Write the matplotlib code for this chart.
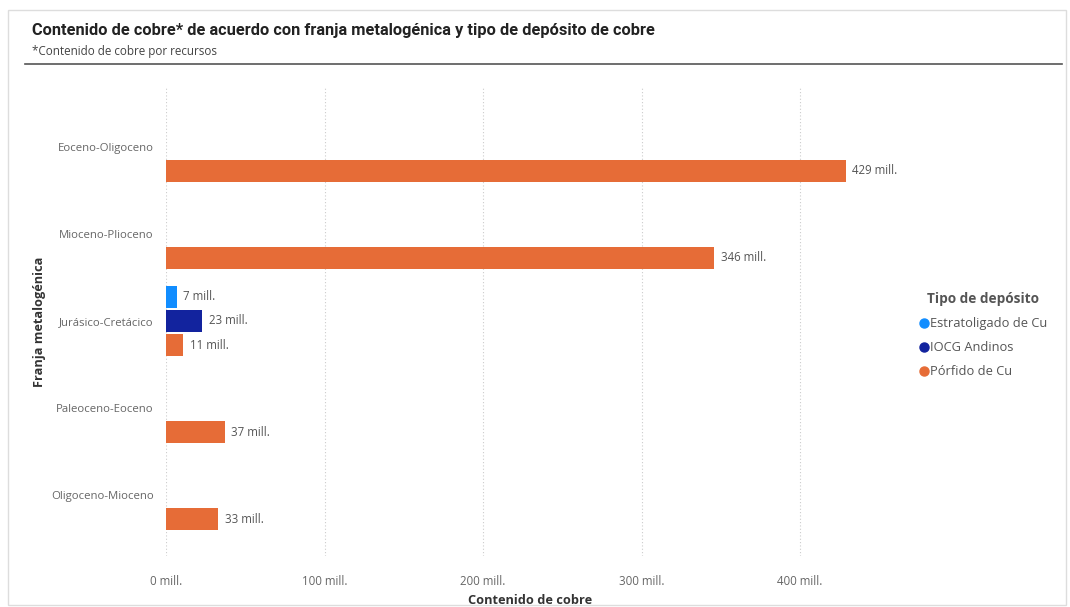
import matplotlib
matplotlib.use("Agg")
import matplotlib.pyplot as plt
import numpy as np
from matplotlib.patches import Rectangle
from matplotlib.lines import Line2D

categories = ["Eoceno-Oligoceno", "Mioceno-Plioceno", "Jurásico-Cretácico",
              "Paleoceno-Eoceno", "Oligoceno-Mioceno"]
series_names = ["Estratoligado de Cu", "IOCG Andinos", "Pórfido de Cu"]
estratoligado = [None, None, 7, None, None]
iocg = [None, None, 23, None, None]
porfido = [429, 346, 11, 37, 33]
series_values = [estratoligado, iocg, porfido]
colors = ["#118DFF", "#12239E", "#E66C37"]
xticks = [0, 100, 200, 300, 400]
xtick_labels = [f"{v} mill." for v in xticks]

plt.rcParams['font.family'] = ['Open Sans', 'DejaVu Sans']

fig = plt.figure(figsize=(10.70, 6.07), dpi=100)
W, H = 1070, 607
xmax = 460
ax = fig.add_axes([166 / W, (H - 556) / H, (xmax * 1.585) / W, (556 - 86) / H])

y = np.arange(len(categories))
slot = 0.276
barh = 0.25
offsets = [-slot, 0, slot]
for vals, off, col in zip(series_values, offsets, colors):
    for i, v in enumerate(vals):
        if v is None:
            continue
        ax.barh(y[i] + off, v, height=barh, color=col, linewidth=0)
        ax.text(v + 4, y[i] + off, f"{v} mill.", va="center", ha="left",
                fontsize=8.3, color="#555555")

ax.set_xlim(0, xmax)
ax.set_ylim(len(categories) - 1 + 0.7, -0.7)
ax.set_yticks(y)
ax.set_yticklabels(categories, fontsize=8.2, color="#666666")
ax.set_xticks(xticks)
ax.set_xticklabels(xtick_labels, fontsize=8.3, color="#666666")
ax.tick_params(axis="both", length=0)
ax.tick_params(axis="x", pad=14)
ax.tick_params(axis="y", pad=9)
ax.grid(axis="x", linestyle=(0, (1, 2)), color="#CCCCCC", linewidth=0.8)
ax.set_axisbelow(True)
for s in ax.spines.values():
    s.set_visible(False)

ax.set_xlabel("Contenido de cobre", fontsize=9.2, fontweight="bold", color="#333333", labelpad=4)
fig.text(40 / W, 1 - 322 / H, "Franja metalogénica", rotation=90, fontsize=9.2,
         fontweight="bold", color="#333333", ha="center", va="center")

# Title and subtitle
fig.text(32 / W, 1 - 30 / H, "Contenido de cobre* de acuerdo con franja metalogénica y tipo de depósito de cobre",
         fontsize=11.8, fontweight="bold", color="#222222", ha="left", va="center",
         family=['Roboto', 'DejaVu Sans'])
fig.text(32 / W, 1 - 51 / H, "*Contenido de cobre por recursos", fontsize=8.4,
         color="#444444", ha="left", va="center")
fig.add_artist(Line2D([25 / W, 1062 / W], [1 - 64 / H, 1 - 64 / H], color="#555555", lw=1.2))

# border
fig.add_artist(Rectangle((8 / W, 2 / H), (1066 - 8) / W, (605 - 10) / H, fill=False,
                         edgecolor="#DDDDDD", lw=1))

# Legend
handles = [Line2D([], [], marker="o", linestyle="", color=c, markersize=6.5) for c in colors]
leg = fig.legend(handles, series_names, loc="upper left", bbox_to_anchor=(914 / W, 1 - 287 / H),
                 frameon=False, fontsize=9.3, title="Tipo de depósito",
                 handletextpad=0.05, handlelength=0.8, labelspacing=0.85, borderaxespad=0)
leg.get_title().set_fontweight("bold")
leg.get_title().set_fontsize(9.8)
leg.get_title().set_color("#555555")
for t in leg.get_texts():
    t.set_color("#555555")

fig.savefig("out.png", dpi=100)
